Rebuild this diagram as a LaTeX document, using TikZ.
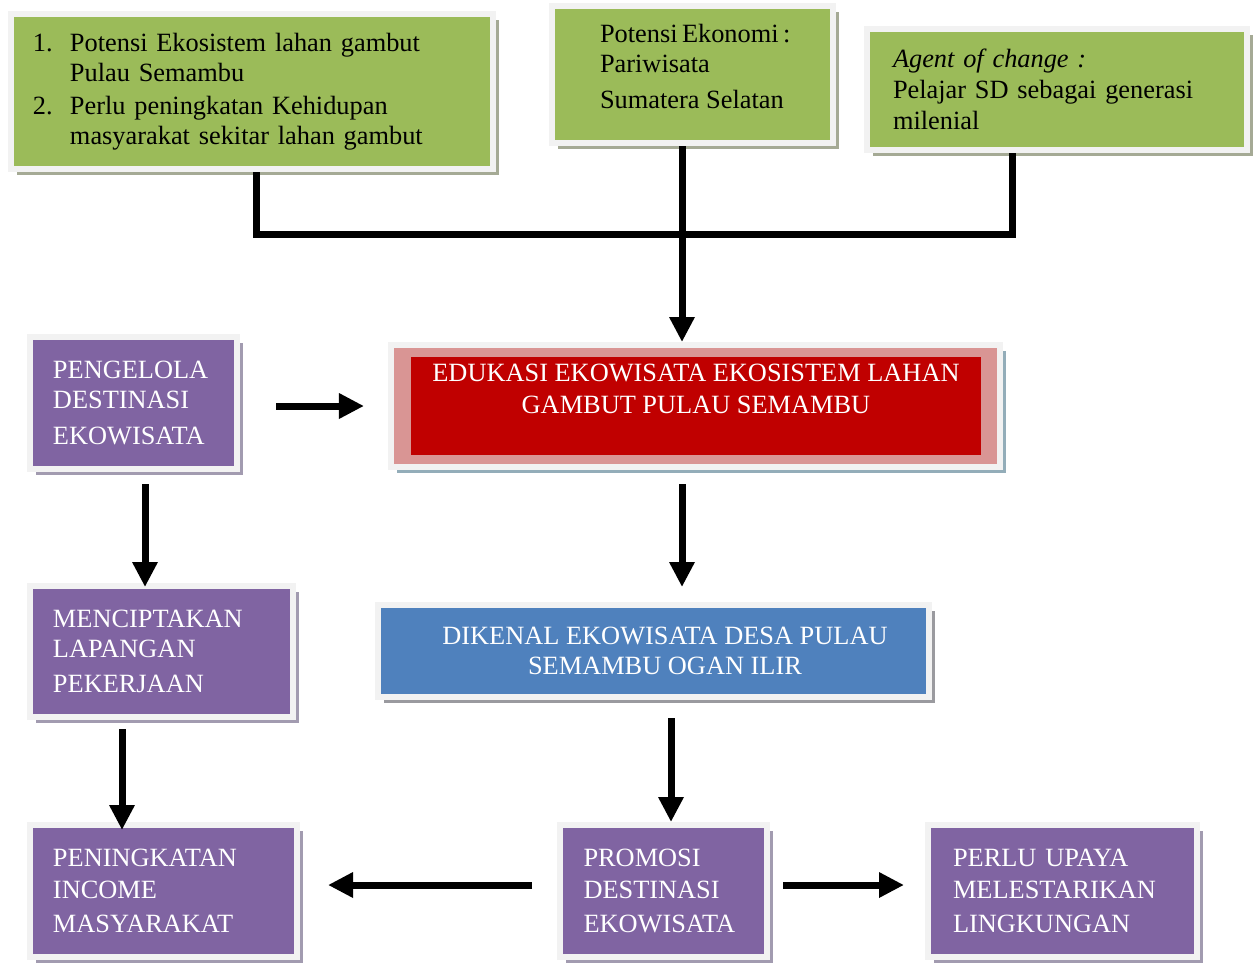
\documentclass[tikz,border=0pt]{standalone}
\usepackage{fontspec}
\setmainfont{Liberation Serif}
\usetikzlibrary{arrows.meta,positioning,calc,shadows}
\hyphenpenalty=10000
\definecolor{boxgreen}{HTML}{9BBB59}
\definecolor{boxred}{HTML}{C00000}
\definecolor{boxpink}{HTML}{D99594}
\definecolor{boxpurple}{HTML}{8064A2}
\definecolor{boxblue}{HTML}{4F81BD}
\definecolor{framegray}{HTML}{F2F2F2}
\definecolor{shadegreen}{HTML}{A5AA95}
\definecolor{shadered}{HTML}{93ADB9}
\definecolor{shadepurple}{HTML}{A29BB0}
\definecolor{shadeblue}{HTML}{9A9A9F}
\tikzset{
  input/.style={draw=framegray, line width=1.2mm, fill=boxgreen, align=left, drop shadow={shadow xshift=1.2mm, shadow yshift=-1.2mm, fill=shadegreen, opacity=1}},
  coreframe/.style={draw=framegray, line width=1.2mm, fill=boxpink, drop shadow={shadow xshift=1.2mm, shadow yshift=-1.2mm, fill=shadered, opacity=1}},
  core/.style={fill=boxred, text=white, inner sep=0pt, minimum width=114mm},
  effect/.style={draw=framegray, line width=1.2mm, fill=boxpurple, text=white, align=left, drop shadow={shadow xshift=1.2mm, shadow yshift=-1.2mm, fill=shadepurple, opacity=1}},
  result/.style={draw=framegray, line width=1.2mm, fill=boxblue, text=white, drop shadow={shadow xshift=1.2mm, shadow yshift=-1.2mm, fill=shadeblue, opacity=1}},
  line/.style={-{Triangle[length=5mm,width=4.8mm]}, line width=1.4mm},
  bar/.style={line width=1.4mm}
}
\begin{document}
\begin{tikzpicture}[x=0.2mm, y=-0.2mm, every node/.style={font=\fontsize{15}{17}\selectfont}]
  \useasboundingbox (0,0) rectangle (1254,962);

  % potensi di atas
  \node[input, minimum width=96.4mm, minimum height=31mm, text width=87.6mm] (gl) at (252,91.5)
    {\makebox[7.4mm][l]{1.}Potensi Ekosistem lahan gambut\\
     \hspace*{7.4mm}Pulau Semambu\\[0.6mm]
     \makebox[7.4mm][l]{2.}Perlu peningkatan Kehidupan\\
     \hspace*{7.4mm}masyarakat sekitar lahan gambut};
  \node[input, minimum width=56.2mm, minimum height=27.4mm] (gm) at (692.5,74.5)
    {\raisebox{1.6mm}[\height][\depth]{\parbox[t]{37mm}{\raggedright
      Potensi~Ekonomi~:\\Pariwisata\\[1.4mm]Sumatera~Selatan}}};
  \node[input, minimum width=76mm, minimum height=24.2mm, text width=65.6mm] (gr) at (1057,89.5)
    {\textit{Agent of change :}\\[0.2mm]Pelajar SD sebagai generasi\\[0.2mm]milenial};

  % edukasi
  \node[coreframe, minimum width=121.8mm, minimum height=24.4mm] (eduframe) at (695.5,406) {};
  \node[core, anchor=north] (edu) at (696,357)
    {\parbox[t][19.6mm][t]{110mm}{\centering\vspace*{1.4mm}%
      EDUKASI EKOWISATA EKOSISTEM LAHAN\\[0.4mm]GAMBUT PULAU SEMAMBU}};

  \node[effect, minimum width=41.4mm, minimum height=26.4mm, text width=32.2mm] (peng) at (133.5,403)
    {PENGELOLA\\DESTINASI\\[1.2mm]EKOWISATA};
  \node[effect, minimum width=52.6mm, minimum height=26.2mm, text width=43.4mm] (menc) at (161.5,651.5)
    {MENCIPTAKAN\\LAPANGAN\\[1.2mm]PEKERJAAN};
  \node[effect, minimum width=53.4mm, minimum height=26.4mm, text width=44.2mm] (penin) at (163.5,891)
    {PENINGKATAN\\[0.4mm]INCOME\\[0.8mm]MASYARAKAT};
  \node[result, minimum width=110.2mm, minimum height=18.4mm] (dik) at (653.5,651)
    {\hspace*{4.6mm}\parbox{100mm}{\centering DIKENAL EKOWISATA DESA PULAU\\SEMAMBU OGAN ILIR}};
  \node[effect, minimum width=41.4mm, minimum height=26.4mm, text width=32mm] (promo) at (663.5,891)
    {PROMOSI\\[0.4mm]DESTINASI\\[0.8mm]EKOWISATA};
  \node[effect, minimum width=53.8mm, minimum height=26.4mm, text width=43.8mm] (perlu) at (1062.5,891)
    {PERLU UPAYA\\[0.4mm]MELESTARIKAN\\[0.8mm]LINGKUNGAN};

  % penghubung
  \coordinate (join) at (682,234);
  \draw[bar] ([xshift=0.8mm]gl.south) |- (join) -| ([xshift=-9mm]gr.south);
  \draw[line] (join |- gm.south) -- (join |- eduframe.north);
  \draw[line, shorten <=7.2mm, shorten >=4.8mm] (peng.east |- eduframe.west) -- (eduframe.west);
  \draw[line, shorten <=2.4mm, shorten >=-0.8mm] ([xshift=2.3mm]peng.south) -- ([xshift=2.3mm]peng.south |- menc.north);
  \draw[line, shorten <=1.8mm, shorten >=-1.6mm] ([xshift=-7.9mm]menc.south) -- ([xshift=-7.9mm]menc.south |- penin.north);
  \draw[line, shorten <=2.8mm, shorten >=3mm] (join |- eduframe.south) -- (join |- dik.north);
  \draw[line, shorten <=3.6mm] ([xshift=1.5mm]promo.north |- dik.south) -- ([xshift=1.5mm]promo.north);
  \draw[line, shorten <=5mm, shorten >=5.6mm] ([yshift=1.2mm]promo.west) -- ([yshift=1.2mm]promo.west -| penin.east);
  \draw[line, shorten <=2.6mm, shorten >=4.2mm] ([yshift=1.2mm]promo.east) -- ([yshift=1.2mm]promo.east -| perlu.west);
\end{tikzpicture}
\end{document}
